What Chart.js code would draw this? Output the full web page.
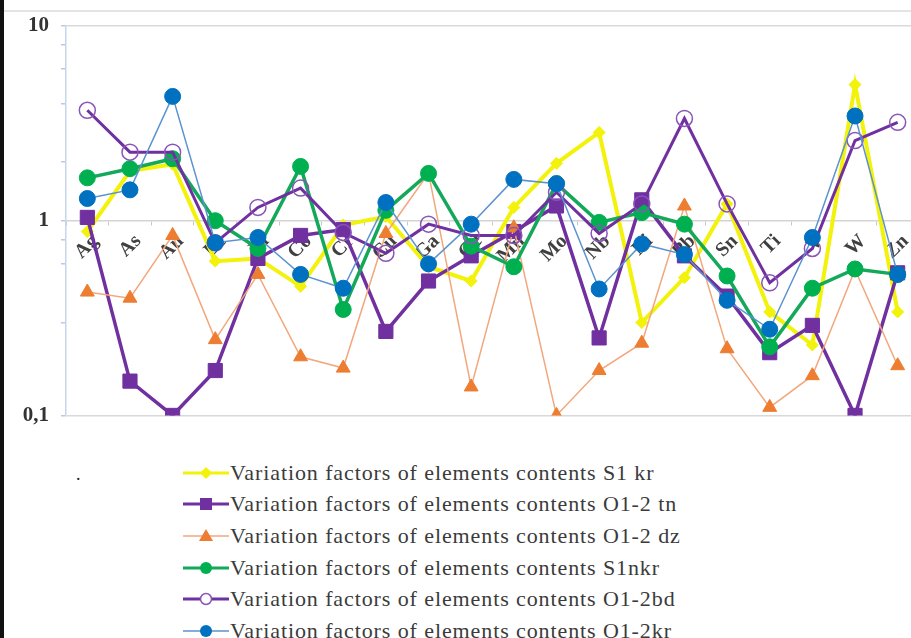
<!DOCTYPE html>
<html>
<head>
<meta charset="utf-8">
<script src="https://cdn.jsdelivr.net/npm/chart.js@4.4.1/dist/chart.umd.min.js"></script>
<style>
  html, body { margin: 0; padding: 0; background: #fff; }
  body { width: 911px; height: 638px; overflow: hidden; position: relative; font-family: "Liberation Serif", "Times New Roman", "DejaVu Serif", serif; }
  #wrap { position: absolute; left: 0; top: 0; width: 930px; height: 440px; }
  #topline { position: absolute; left: 4px; right: 0; top: 10px; height: 2px; background: #e4e4e4; }
  #leftbar { position: absolute; left: 0; top: 0; width: 4px; height: 638px; background: #111; }
  #legend { position: absolute; left: 183px; top: 457px; }
  .item { display: flex; align-items: center; height: 31.6px; font-family: "Liberation Serif", "Times New Roman", serif; font-size: 22px; letter-spacing: 0.9px; color: #3b3b3b; white-space: nowrap; }
  .item svg { margin-right: 1px; }
  #dot { position: absolute; left: 76px; top: 464px; font-size: 18px; color: #222; }
</style>
</head>
<body>
<div id="topline"></div>
<div id="wrap"><canvas id="chart" width="930" height="440"></canvas></div>
<div id="dot">.</div>
<div id="legend"></div>
<div id="leftbar"></div>
<script>
// categories (elements) and variation factors
const categories = ["Ag", "As", "Au", "Be", "Bi", "Co", "Cr", "Cu", "Ga", "Ge", "Mn", "Mo", "Nb", "Ni", "Pb", "Sn", "Ti", "V", "W", "Zn"]
const s1kr   = [0.88, 1.8, 1.95, 0.62, 0.64, 0.46, 0.95, 1.05, 0.58, 0.49, 1.17, 1.97, 2.84, 0.3, 0.51, 1.22, 0.34, 0.23, 5.0, 0.34]
const o12tn  = [1.04, 0.15, 0.1, 0.17, 0.64, 0.84, 0.9, 0.27, 0.49, 0.66, 0.88, 1.19, 0.25, 1.28, 0.66, 0.41, 0.21, 0.29, 0.1, 0.54]
const o12dz  = [0.43, 0.4, 0.84, 0.245, 0.53, 0.2, 0.175, 0.86, 1.75, 0.14, 0.92, 0.1, 0.17, 0.235, 1.19, 0.22, 0.11, 0.16, 0.56, 0.18]
const s1nkr  = [1.66, 1.85, 2.08, 1.0, 0.72, 1.9, 0.35, 1.13, 1.75, 0.74, 0.58, 1.55, 0.98, 1.1, 0.96, 0.52, 0.225, 0.45, 0.565, 0.53]
const o12bd  = [3.69, 2.25, 2.25, 0.77, 1.17, 1.47, 0.87, 0.68, 0.96, 0.84, 0.84, 1.4, 0.86, 1.22, 3.35, 1.22, 0.48, 0.72, 2.58, 3.2]
const o12kr  = [1.3, 1.44, 4.35, 0.77, 0.82, 0.53, 0.45, 1.24, 0.6, 0.96, 1.63, 1.55, 0.446, 0.76, 0.67, 0.39, 0.277, 0.82, 3.45, 0.53]
const yTickLabels = { "0.1": "0,1", "1": "1", "10": "10" }

const prefix = "Variation factors of elements contents "

// order: higher number drawn first (underneath), so the last series ends on top like in Excel
const datasets = [
  { label: prefix + "S1 kr", data: s1kr, borderColor: "#f2f20a", backgroundColor: "#f2f20a", borderWidth: 4,
    pointStyle: "rectRot", pointRadius: 6, pointBorderWidth: 1, order: 6 },
  { label: prefix + "O1-2 tn", data: o12tn, borderColor: "#7030a0", backgroundColor: "#7030a0", borderWidth: 3.5,
    pointStyle: "rect", pointRadius: 10, pointBorderWidth: 1, order: 5 },
  { label: prefix + "O1-2 dz", data: o12dz, borderColor: "#f2a77c", backgroundColor: "#ed7d31", borderWidth: 1.5,
    pointStyle: "triangle", pointRadius: 8, pointBorderColor: "#ed7d31", pointBorderWidth: 1, order: 4 },
  { label: prefix + "S1nkr", data: s1nkr, borderColor: "#14a85a", backgroundColor: "#00b050", borderWidth: 3.5,
    pointStyle: "circle", pointRadius: 8, pointBorderColor: "#00b050", pointBorderWidth: 1, order: 3 },
  { label: prefix + "O1-2bd", data: o12bd, borderColor: "#7030a0", backgroundColor: "rgba(255,255,255,0)", borderWidth: 3,
    pointStyle: "circle", pointRadius: 8, pointBorderColor: "#8a55b8", pointBorderWidth: 1.5, order: 2 },
  { label: prefix + "O1-2kr", data: o12kr, borderColor: "#5a93cf", backgroundColor: "#0070c0", borderWidth: 1.5,
    pointStyle: "circle", pointRadius: 8, pointBorderColor: "#0070c0", pointBorderWidth: 1, order: 1 },
]
datasets.forEach((d) => { d.tension = 0; d.pointHoverRadius = d.pointRadius })

const isMajor = (v) => Math.abs(Math.log10(v) - Math.round(Math.log10(v))) < 1e-6

new Chart(document.getElementById("chart"), {
  type: "line",
  data: { labels: categories, datasets: datasets },
  options: {
    responsive: false,
    animation: false,
    devicePixelRatio: 1,
    layout: { padding: { left: 4, right: 4, top: 26, bottom: 14 } },
    plugins: { legend: { display: false }, tooltip: { enabled: false } },
    scales: {
      x: {
        position: { y: 1 },
        offset: true,
        grid: { drawOnChartArea: false, drawTicks: true, tickLength: 4, color: "#c8c8c8", offset: true },
        border: { color: "#d4d4d4", width: 1.5 },
        ticks: { autoSkip: false, minRotation: 45, maxRotation: 45, padding: 5, labelOffset: 8,
                 color: "#404040", font: { family: "Liberation Serif", size: 20, weight: "bold" } },
      },
      y: {
        type: "logarithmic",
        min: 0.1,
        max: 10,
        afterFit: (scale) => { scale.width = 62 },
        grid: {
          color: (ctx) => (ctx.tick && isMajor(ctx.tick.value) && Math.round(ctx.tick.value) !== 1 ? "#d9d9d9" : "rgba(0,0,0,0)"),
          lineWidth: 1.5,
          tickColor: "#b8cbe6",
          tickLength: 5,
        },
        border: { color: "#c5d5ea", width: 1.5 },
        ticks: {
          padding: 12,
          color: "#333",
          font: { family: "Liberation Serif", size: 21, weight: "bold" },
          callback: (v) => yTickLabels[String(Math.round(v * 1000) / 1000)] || "",
        },
      },
    },
  },
})

// legend below the plot, one line per series
function icon(d) {
  const c = d.backgroundColor
  let m = ""
  if (d.pointStyle === "rect") m = `<rect x="17" y="4" width="12" height="12" fill="${c}"/>`
  else if (d.pointStyle === "triangle") m = `<polygon points="23,3 30,15 16,15" fill="${c}"/>`
  else if (d.pointStyle === "rectRot") m = `<polygon points="23,4 29,10 23,16 17,10" fill="${c}"/>`
  else if (d.backgroundColor.indexOf("rgba") === 0) m = `<circle cx="23" cy="10" r="5.5" fill="#fff" stroke="${d.pointBorderColor}" stroke-width="1.5"/>`
  else m = `<circle cx="23" cy="10" r="6" fill="${c}"/>`
  return `<svg width="46" height="20"><line x1="0" y1="10" x2="46" y2="10" stroke="${d.borderColor}" stroke-width="${Math.min(d.borderWidth, 3)}"/>${m}</svg>`
}
document.getElementById("legend").innerHTML = datasets
  .map((d) => `<div class="item">${icon(d)}<span>${d.label}</span></div>`)
  .join("")
</script>
</body>
</html>
